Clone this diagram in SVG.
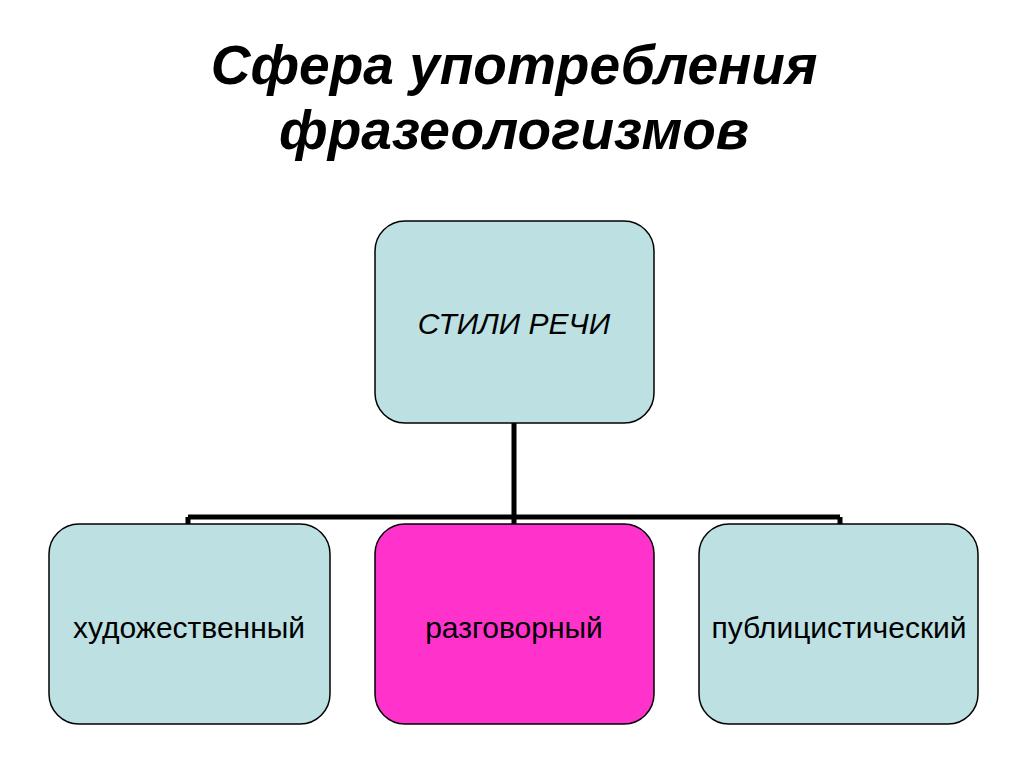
<svg xmlns="http://www.w3.org/2000/svg" width="1024" height="767" viewBox="0 0 1024 767">
<style>
.box{stroke:#000;stroke-width:1.5}
.blue{fill:#bde0e3}
.pink{fill:#ff33cc}
.t{font-family:"Liberation Sans",Arial,sans-serif;font-size:30px;text-anchor:middle}
.title{font-family:"Liberation Sans",Arial,sans-serif;font-size:55px;font-weight:bold;font-style:italic;text-anchor:middle}
.c{stroke:#000;stroke-width:5;fill:none}
</style>
<rect width="1024" height="767" fill="#fff"/>
<text class="title" x="514" y="84">Сфера употребления</text>
<text class="title" x="514" y="149">фразеологизмов</text>
<g id="connectors">
<path class="c" d="M514 423V517M188 517H840M188 517V524M514 517V524M840 517V524"/>
</g>
<g id="root"><rect class="box blue" x="375" y="221" width="279" height="202" rx="30"/><text class="t" x="514" y="334" font-style="italic">СТИЛИ РЕЧИ</text></g>
<g id="n1"><rect class="box blue" x="49" y="524" width="281" height="200" rx="30"/><text class="t" x="189" y="638">художественный</text></g>
<g id="n2"><rect class="box pink" x="375" y="524" width="279" height="200" rx="30"/><text class="t" x="514" y="638">разговорный</text></g>
<g id="n3"><rect class="box blue" x="699" y="524" width="279" height="200" rx="30"/><text class="t" x="839" y="638">публицистический</text></g>
</svg>
